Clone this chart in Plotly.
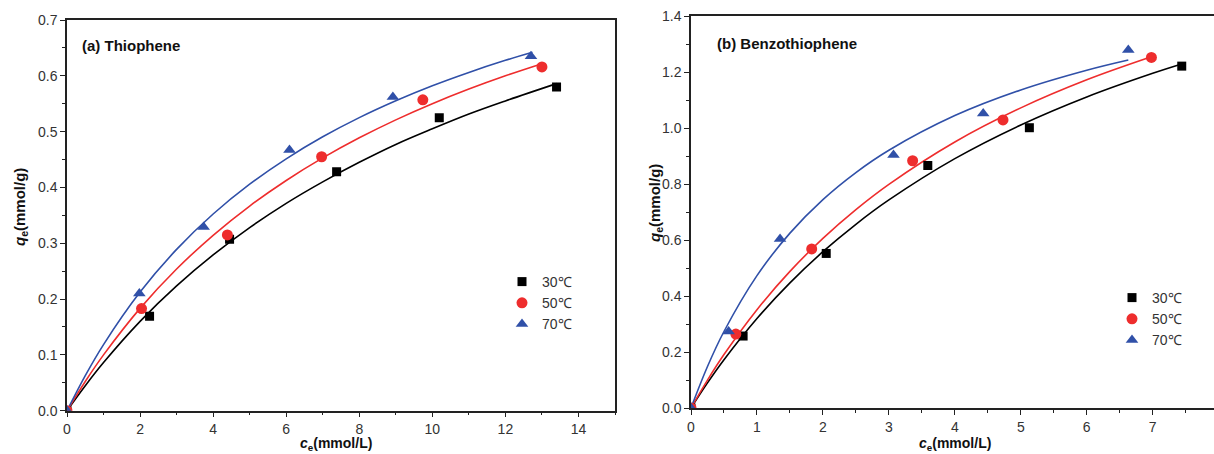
import plotly.graph_objects as go

# ---------------- data: panel (a) Thiophene ----------------
a_x30 = [0, 2.26, 4.45, 7.38, 10.19, 13.40]
a_y30 = [0, 0.169, 0.307, 0.428, 0.525, 0.580]
a_x50 = [0, 2.04, 4.39, 6.97, 9.74, 13.00]
a_y50 = [0, 0.183, 0.315, 0.455, 0.557, 0.616]
a_x70 = [0, 1.98, 3.74, 6.09, 8.92, 12.70]
a_y70 = [0, 0.210, 0.329, 0.467, 0.562, 0.635]

# fitted curves
a_cx30 = [0, 0.5, 1, 2, 3, 4, 5, 6, 7, 8, 9, 10, 11, 12, 13.4]
a_cy30 = [0, 0.0448, 0.0862, 0.160, 0.2235, 0.279, 0.328, 0.3715, 0.410, 0.445, 0.477, 0.505, 0.5315, 0.555, 0.586]
a_cx50 = [0, 0.5, 1, 2, 3, 4, 5, 6, 7, 8, 9, 10, 11, 12, 13.0]
a_cy50 = [0, 0.0524, 0.100, 0.1833, 0.2538, 0.3143, 0.3667, 0.4125, 0.4529, 0.4889, 0.5211, 0.550, 0.5762, 0.600, 0.6217]
a_cx70 = [0, 0.5, 1, 2, 3, 4, 5, 6, 7, 8, 9, 10, 11, 12, 12.74]
a_cy70 = [0, 0.0629, 0.1185, 0.2125, 0.289, 0.3524, 0.4058, 0.4513, 0.4907, 0.5251, 0.5553, 0.5822, 0.6061, 0.6277, 0.6422]

# ---------------- data: panel (b) Benzothiophene ----------------
b_x30 = [0, 0.79, 2.05, 3.59, 5.13, 7.44]
b_y30 = [0, 0.257, 0.552, 0.866, 1.001, 1.221]
b_x50 = [0, 0.68, 1.83, 3.36, 4.73, 6.98]
b_y50 = [0, 0.264, 0.568, 0.883, 1.029, 1.252]
b_x70 = [0, 0.57, 1.35, 3.07, 4.43, 6.63]
b_y70 = [0, 0.273, 0.604, 0.904, 1.052, 1.279]

b_cx30 = [0, 0.25, 0.5, 1, 1.5, 2, 2.5, 3, 4, 5, 6, 7, 7.44]
b_cy30 = [0, 0.0897, 0.1724, 0.3197, 0.447, 0.5582, 0.6561, 0.743, 0.8905, 1.0108, 1.1109, 1.1954, 1.2286]
b_cx50 = [0, 0.25, 0.5, 1, 1.5, 2, 2.5, 3, 4, 5, 6, 6.98]
b_cy50 = [0, 0.0998, 0.1909, 0.3513, 0.4879, 0.6058, 0.7085, 0.7987, 0.950, 1.0718, 1.172, 1.2542]
b_cx70 = [0, 0.25, 0.5, 1, 1.5, 2, 2.5, 3, 4, 5, 6, 6.63]
b_cy70 = [0, 0.1482, 0.2732, 0.4726, 0.6246, 0.7443, 0.8409, 0.9206, 1.0444, 1.136, 1.2065, 1.243]

series_names = ["30℃", "50℃", "70℃"]
colors = ["#000000", "#ee2d2d", "#3050a8"]
symbols = ["square", "circle", "triangle-up"]
msizes = [9, 11, 11]

W, H = 1214, 454
FONT = "Liberation Sans, Arial, sans-serif"

fig = go.Figure()

panels = [
    ("x", "y", "legend",
     [(a_x30, a_y30), (a_x50, a_y50), (a_x70, a_y70)],
     [(a_cx30, a_cy30), (a_cx50, a_cy50), (a_cx70, a_cy70)]),
    ("x2", "y2", "legend2",
     [(b_x30, b_y30), (b_x50, b_y50), (b_x70, b_y70)],
     [(b_cx30, b_cy30), (b_cx50, b_cy50), (b_cx70, b_cy70)]),
]

for xa, ya, lg, pts, curves in panels:
    for i in range(3):
        cx, cy = curves[i]
        fig.add_trace(go.Scatter(x=cx, y=cy, mode="lines", line=dict(color=colors[i], width=1.6, shape="spline"),
                                 xaxis=xa, yaxis=ya, showlegend=False, hoverinfo="skip"))
    for i in range(3):
        px_, py_ = pts[i]
        fig.add_trace(go.Scatter(x=px_, y=py_, mode="markers", name=series_names[i],
                                 marker=dict(symbol=symbols[i], size=msizes[i], color=colors[i], line=dict(width=0)),
                                 xaxis=xa, yaxis=ya, legend=lg, showlegend=True))

axis_common = dict(showgrid=False, zeroline=False, showline=True, linecolor="#222", linewidth=1.5,
                   ticks="outside", ticklen=5, tickwidth=1.2, tickcolor="#222", automargin=False,
                   tickfont=dict(family=FONT, size=14, color="#333"))

minor_style = dict(ticks="outside", ticklen=3, tickwidth=1.2, tickcolor="#222")

fig.update_layout(
    width=W, height=H,
    margin=dict(l=0, r=0, t=0, b=0, autoexpand=False),
    paper_bgcolor="white", plot_bgcolor="white",
    font=dict(family=FONT, color="#222"),
    xaxis=dict(domain=[67 / W, 615 / W], range=[0, 15], dtick=2, mirror=True,
               minor=dict(dtick=1, **minor_style), anchor="y", **axis_common),
    yaxis=dict(domain=[1 - 410.7 / H, 1 - 20 / H], range=[0, 0.7], dtick=0.1, tickformat=".1f", mirror=True,
               minor=dict(dtick=0.05, **minor_style), anchor="x", **axis_common),
    xaxis2=dict(domain=[691 / W, 1.0], range=[0, (W - 691) / 65.96], dtick=1, mirror=True,
                minor=dict(dtick=0.5, **minor_style), anchor="y2", **axis_common),
    yaxis2=dict(domain=[1 - 408 / H, 1 - 16 / H], range=[0, 1.4], dtick=0.2, tickformat=".1f", mirror=False,
                minor=dict(dtick=0.1, **minor_style), anchor="x2", **axis_common),
    legend=dict(x=502 / W, y=1 - 266 / H, xanchor="left", yanchor="top", bgcolor="rgba(0,0,0,0)",
                font=dict(family=FONT, size=14, color="#333"), tracegroupgap=0, itemwidth=30),
    legend2=dict(x=1112 / W, y=1 - 282 / H, xanchor="left", yanchor="top", bgcolor="rgba(0,0,0,0)",
                 font=dict(family=FONT, size=14, color="#333"), tracegroupgap=0, itemwidth=30),
)

annots = [
    dict(text="<b>(a) Thiophene</b>", x=80 / W, y=1 - 45 / H, xanchor="left", yanchor="middle", size=15),
    dict(text="<b>(b) Benzothiophene</b>", x=715 / W, y=1 - 44 / H, xanchor="left", yanchor="middle", size=15),
    dict(text="<b><i>c</i><sub>e</sub>(mmol/L)</b>", x=336 / W, y=1 - 444 / H, xanchor="center", yanchor="middle", size=14),
    dict(text="<b><i>c</i><sub>e</sub>(mmol/L)</b>", x=955 / W, y=1 - 444 / H, xanchor="center", yanchor="middle", size=14),
]
for a in annots:
    fig.add_annotation(text=a["text"], xref="paper", yref="paper", x=a["x"], y=a["y"],
                       xanchor=a["xanchor"], yanchor=a["yanchor"], showarrow=False,
                       font=dict(family=FONT, size=a["size"], color="#111"))

for xpos, ypos in [(20, 207), (655, 203)]:
    fig.add_annotation(text="<b><i>q</i><sub>e</sub>(mmol/g)</b>", xref="paper", yref="paper",
                       x=xpos / W, y=1 - ypos / H, xanchor="center", yanchor="middle", textangle=-90,
                       showarrow=False, font=dict(family=FONT, size=15, color="#111"))

fig.write_html("out.html", config={"displayModeBar": False},
               post_script="document.body.style.margin='0';document.body.style.padding='0';document.body.style.overflow='hidden';")
